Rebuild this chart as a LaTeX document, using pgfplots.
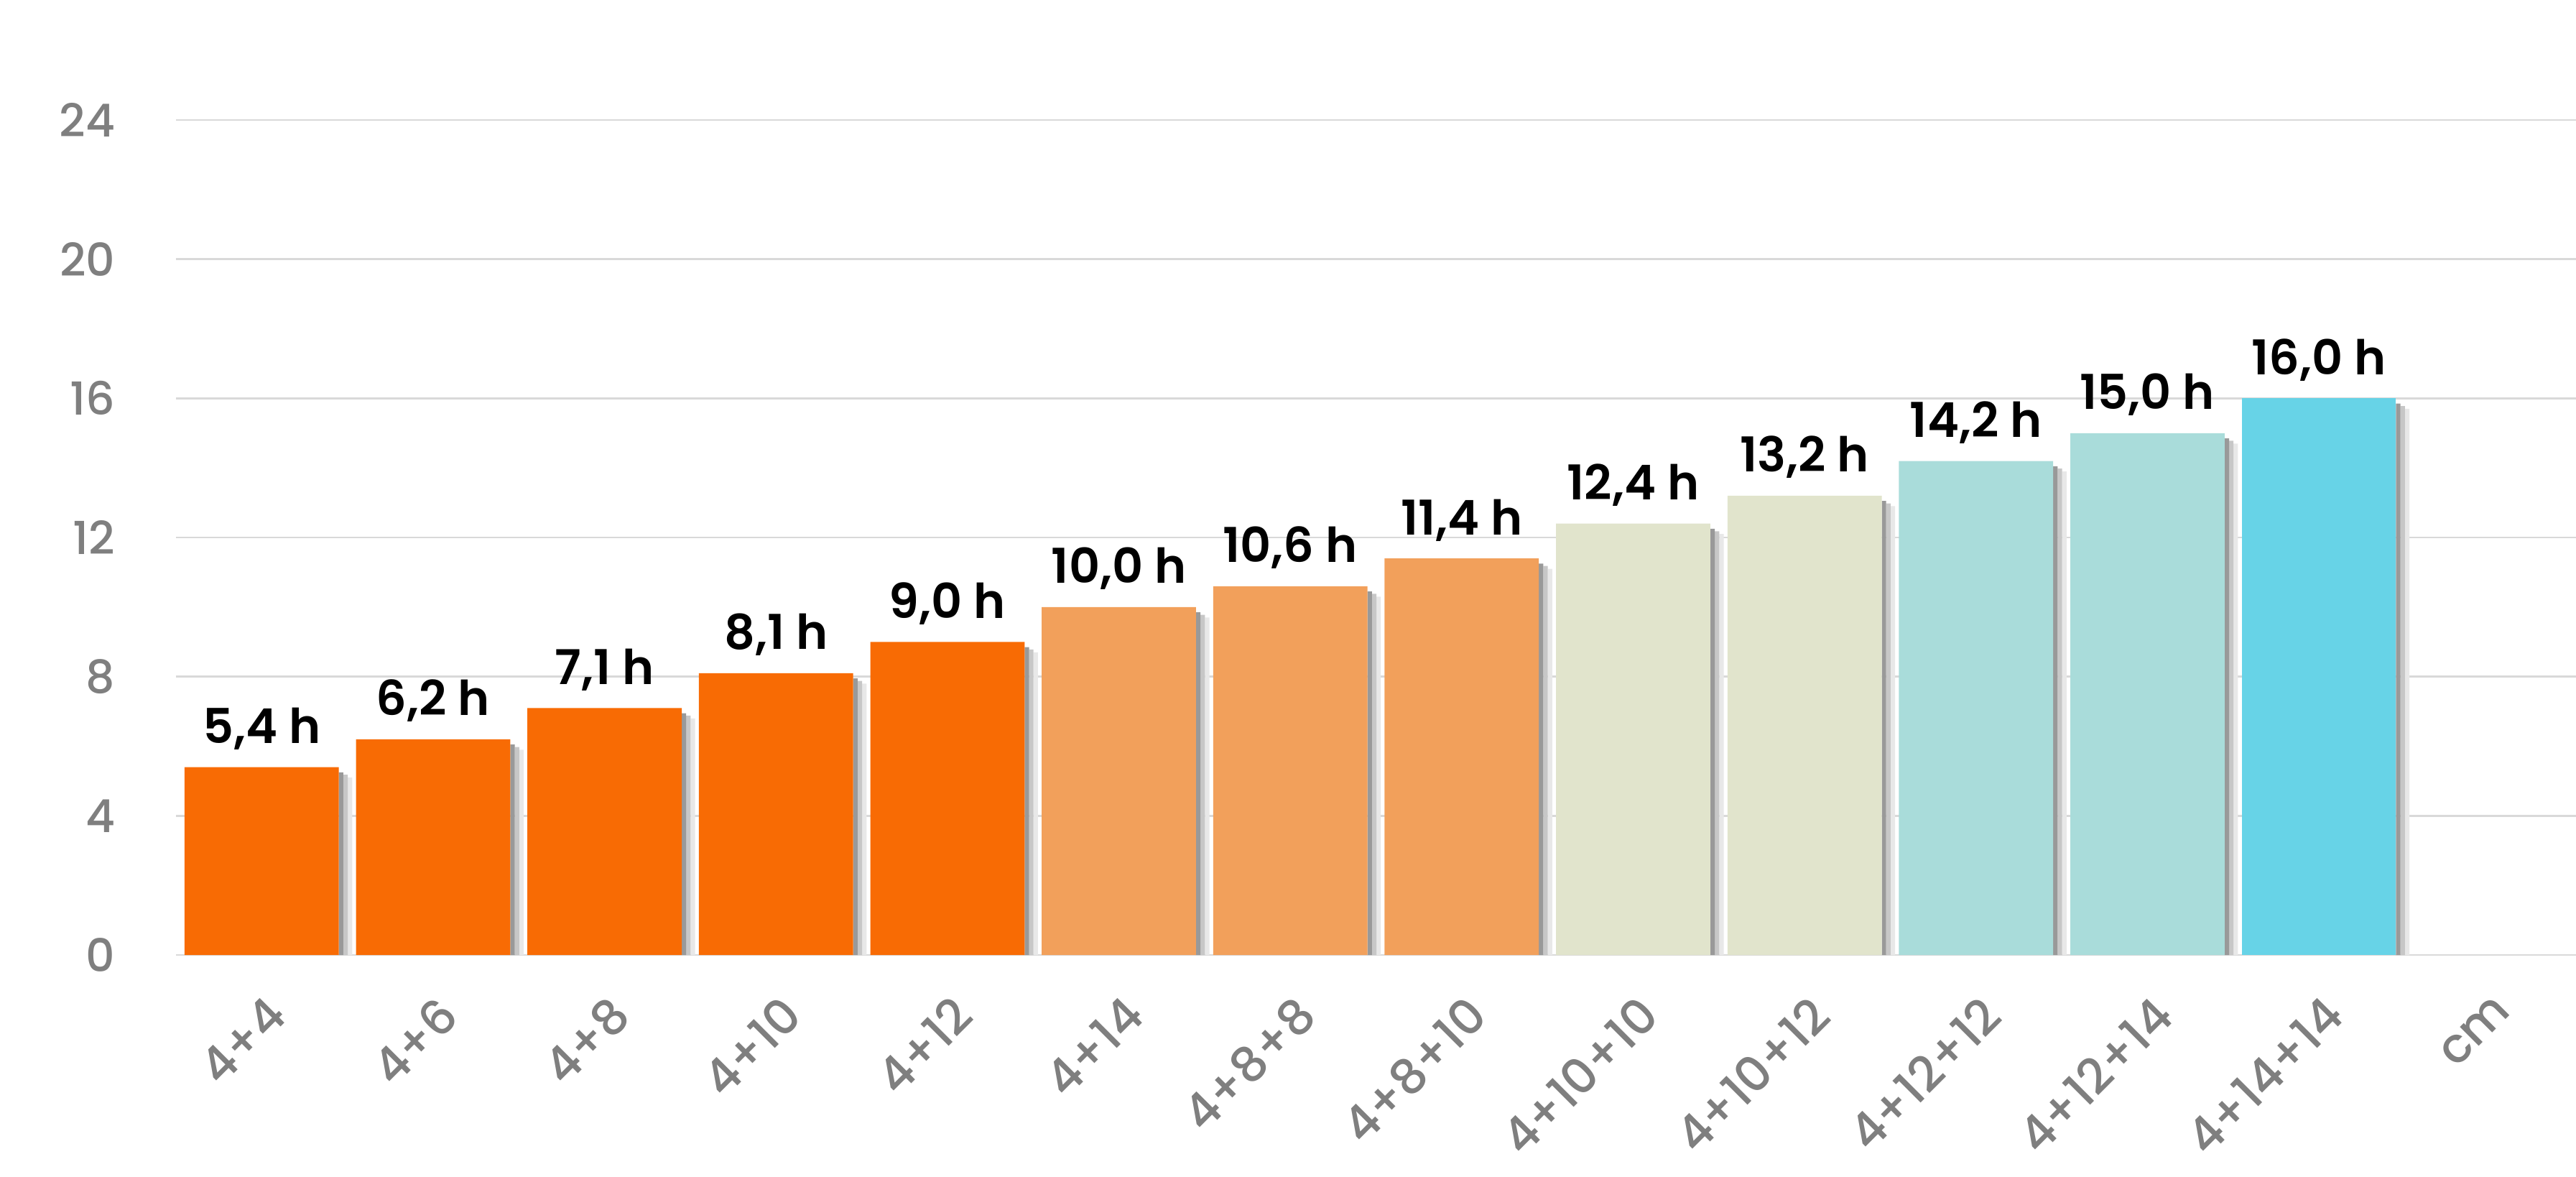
\documentclass[border=0pt]{standalone}
\usepackage{fontspec}
\setmainfont{Poppins}
\newfontfamily\lblfont{Poppins SemiBold}
\newfontfamily\tickfont{Poppins Medium}
\usepackage{pgfplots}
\pgfplotsset{compat=1.18}
\usepackage{pgfplotstable}
\definecolor{cOrange}{HTML}{F86B04}
\definecolor{cLightOrange}{HTML}{F2A05B}
\definecolor{cBeige}{HTML}{E1E4CC}
\definecolor{cTeal}{HTML}{A9DCDA}
\definecolor{cCyan}{HTML}{67D3E7}
\definecolor{tickgray}{HTML}{7F7F7F}
\definecolor{gridgray}{HTML}{D9D9D9}

\pgfplotstableread{
x y
0 5.4
1 6.2
2 7.1
3 8.1
4 9.0
}\tA
\pgfplotstableread{
x y
5 10.0
6 10.6
7 11.4
}\tB
\pgfplotstableread{
x y
8 12.4
9 13.2
}\tC
\pgfplotstableread{
x y
10 14.2
11 15.0
}\tD
\pgfplotstableread{
x y
12 16.0
}\tE
\pgfplotstableread{
x y
0 5.4
1 6.2
2 7.1
3 8.1
4 9.0
5 10.0
6 10.6
7 11.4
8 12.4
9 13.2
10 14.2
11 15.0
12 16.0
}\tAll

\begin{document}
\begin{tikzpicture}
\path[use as bounding box] (0,0) rectangle (17.93cm,8.185cm);
\begin{axis}[
  at={(1.225cm,1.54cm)}, anchor=south west,
  scale only axis, width=16.705cm, height=5.81cm,
  xmin=-0.5, xmax=13.5, ymin=0, ymax=24,
  xtick={0,...,13},
  xticklabels={4+4,4+6,4+8,4+10,4+12,4+14,4+8+8,4+8+10,4+10+10,4+10+12,4+12+12,4+12+14,4+14+14,cm},
  ytick={0,4,...,24},
  axis line style={draw=none},
  tick style={draw=none},
  major tick length=0pt,
  ymajorgrids,
  grid style={draw=gridgray, line width=0.4pt},
  /pgf/number format/assume math mode=true,
  yticklabel style={font=\tickfont\fontsize{9}{10}\selectfont, text=tickgray, anchor=east, xshift=-0.3cm},
  xticklabel style={font=\tickfont\fontsize{9.6}{11}\selectfont, text=tickgray, inner sep=1pt, xshift=0.02cm, yshift=-0.21cm, rotate=45, anchor=north east},
  clip=false,
  barlbl/.style={
    nodes near coords={\pgfmathprintnumber[fixed,fixed zerofill,precision=1,use comma,assume math mode=true]{\pgfplotspointmeta}~h},
    point meta=y,
    every node near coord/.append style={font=\lblfont\fontsize{9.5}{11}\selectfont, text=black, anchor=base, yshift=0.165cm},
  },
  mainbar/.style={ybar, bar width=0.9, bar shift=0, draw=none},
  shA/.style={ybar, bar width=0.026, bar shift=0.463, draw=none, fill=black!40},
  shB/.style={ybar, bar width=0.026, bar shift=0.489, draw=none, fill=black!22},
  shC/.style={ybar, bar width=0.026, bar shift=0.515, draw=none, fill=black!9},
]
% soft shadows to the right of each bar (three fading strips)
\addplot[shC] table[x=x, y expr=\thisrow{y}-0.3] {\tAll};
\addplot[shB] table[x=x, y expr=\thisrow{y}-0.22] {\tAll};
\addplot[shA] table[x=x, y expr=\thisrow{y}-0.15] {\tAll};
% bars
\addplot[mainbar, fill=cOrange, barlbl] table[x=x, y=y] {\tA};
\addplot[mainbar, fill=cLightOrange, barlbl] table[x=x, y=y] {\tB};
\addplot[mainbar, fill=cBeige, barlbl] table[x=x, y=y] {\tC};
\addplot[mainbar, fill=cTeal, barlbl] table[x=x, y=y] {\tD};
\addplot[mainbar, fill=cCyan, barlbl] table[x=x, y=y] {\tE};
\end{axis}
\end{tikzpicture}
\end{document}
